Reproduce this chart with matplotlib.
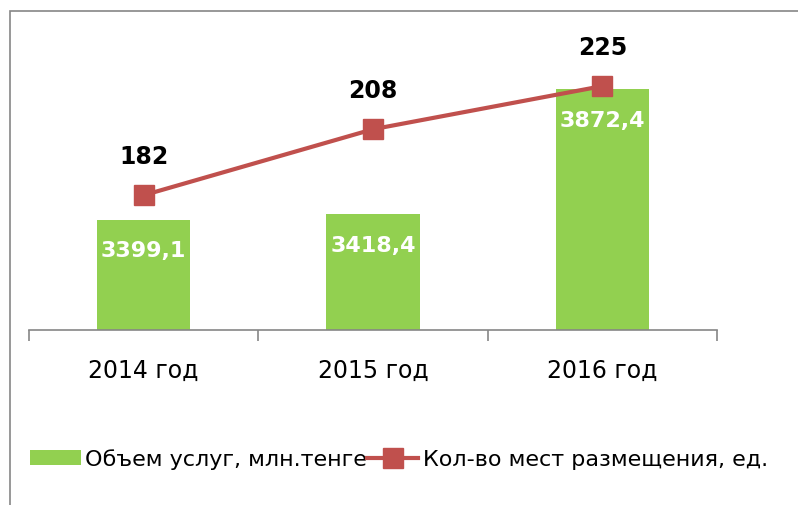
import matplotlib
matplotlib.use("Agg")
import matplotlib.pyplot as plt
from matplotlib.patches import Rectangle

years = ["2014 год", "2015 год", "2016 год"]
volume = [3399.1, 3418.4, 3872.4]
volume_labels = ["3399,1", "3418,4", "3872,4"]
places = [182, 208, 225]

green = "#92D050"
red = "#C0504D"
grey = "#868686"

plt.rcParams['font.family'] = ['DejaVu Sans']

fig = plt.figure(figsize=(7.98, 5.06), dpi=100)
ax = fig.add_axes([29/798, (506-330.7)/506, 688/798, 300.7/506])
x = list(range(len(years)))

bars = ax.bar(x, volume, width=0.406, color=green, label="Объем услуг, млн.тенге", zorder=2)
ax.set_xlim(-0.5, 2.5)
ax.set_ylim(3000, 4090)
for i, v in enumerate(volume):
    ax.annotate(volume_labels[i], (i, v), xytext=(0, -22), textcoords="offset points",
                ha="center", va="center", color="white", fontsize=16, fontweight="bold")

# line on its own hidden axis
ax2 = ax.twinx()
ax2.plot(x, places, color=red, lw=3, marker="s", markersize=14, label="Кол-во мест размещения, ед.", zorder=3)
ax2.set_ylim(129, 247.5)
for i, v in enumerate(places):
    ax2.annotate(str(v), (i, v), xytext=(0, 28.5), textcoords="offset points",
                 ha="center", va="center", color="black", fontsize=17, fontweight="bold")

for a in (ax, ax2):
    for s in a.spines.values():
        s.set_visible(False)
    a.set_yticks([])
ax.spines["bottom"].set_visible(True)
ax.spines["bottom"].set_color(grey)
ax.spines["bottom"].set_linewidth(1.2)

ax.set_xticks(x)
ax.set_xticklabels(years, fontsize=17)
ax.tick_params(axis="x", which="major", length=0, pad=20)
ax.set_xticks([-0.5, 0.5, 1.5, 2.5], minor=True)
ax.tick_params(axis="x", which="minor", length=8, width=1.2, color=grey, direction="out")

handles = [bars, ax2.get_lines()[0]]
fig.legend(handles, [h.get_label() for h in handles], loc="center",
           bbox_to_anchor=(0.5, (506-460)/506), ncol=2, frameon=False, fontsize=16,
           handlelength=2.3, handletextpad=0.2, columnspacing=0.0, numpoints=1)

fig.patches.append(Rectangle((10/798, -0.1), 1.2, (506-12)/506 + 0.1, transform=fig.transFigure,
                             fill=False, edgecolor=grey, lw=1.2))

fig.savefig("out.png", dpi=100)
